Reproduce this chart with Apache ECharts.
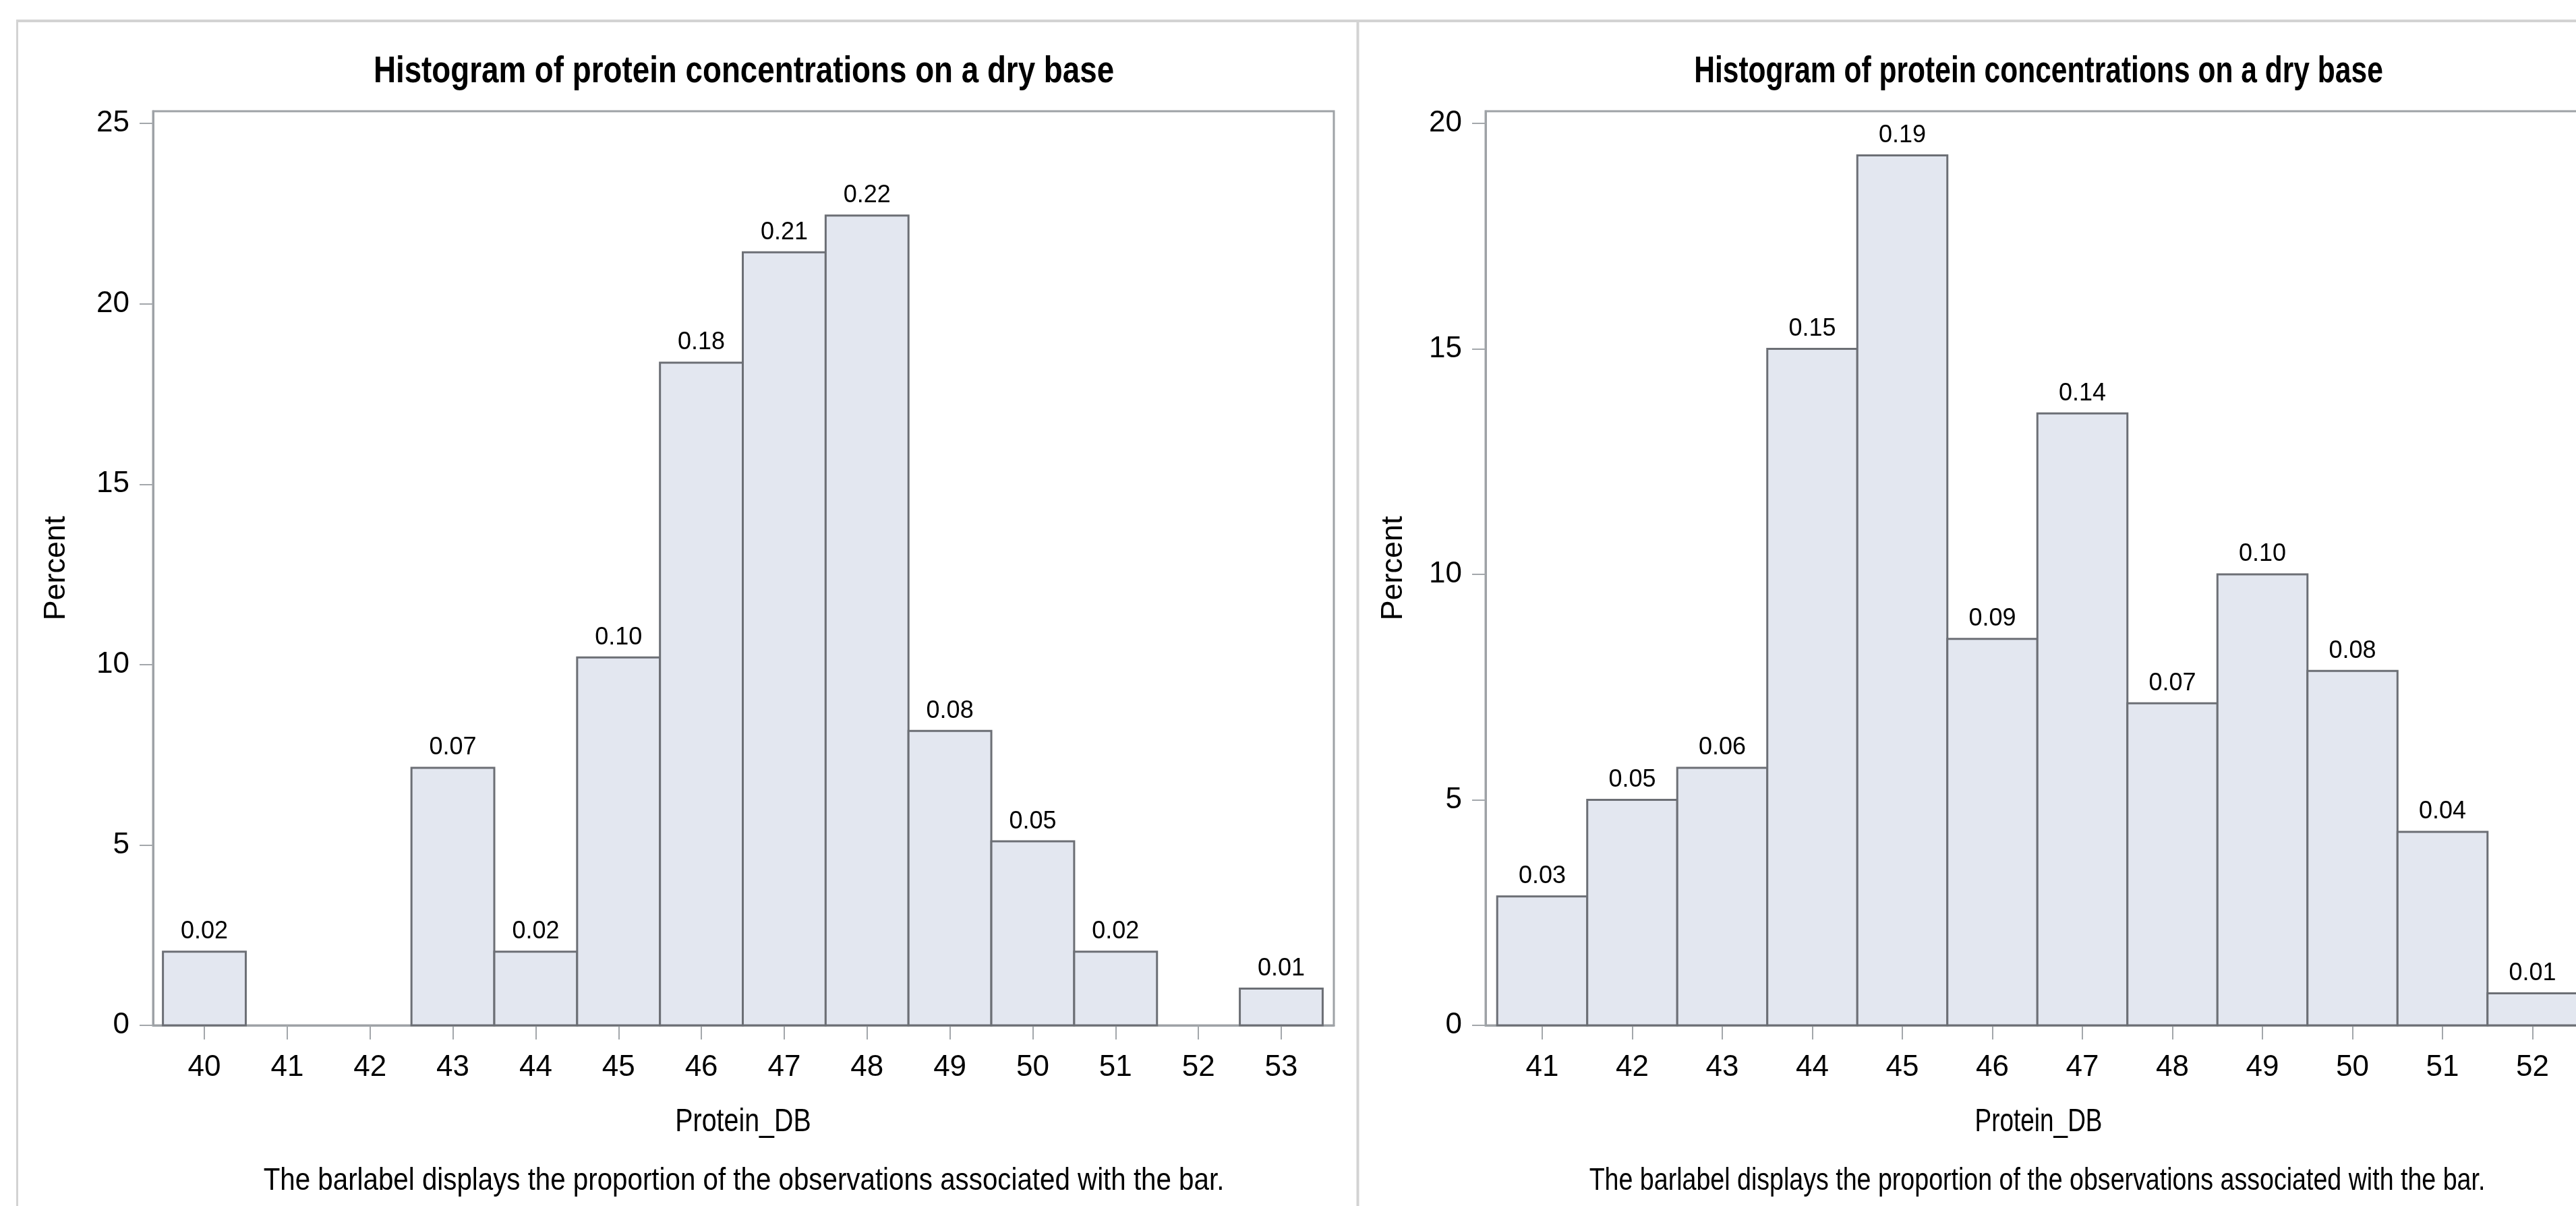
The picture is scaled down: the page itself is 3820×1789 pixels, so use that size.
<!DOCTYPE html>
<html>
<head>
<meta charset="utf-8">
<title>Histogram of protein concentrations on a dry base</title>
<script src="https://cdn.jsdelivr.net/npm/echarts@6/dist/echarts.min.js"></script>
<style>
    html, body { margin: 0; padding: 0; background: #fff; overflow: hidden; }
    #chart { width: 4010px; height: 1789px; }
</style>
</head>
<body>
<div id="chart"></div>
<script>
// left histogram (percent per bin, label = proportion)
const binsLeft = [40, 41, 42, 43, 44, 45, 46, 47, 48, 49, 50, 51, 52, 53];
const percentLeft = [2.04, 0, 0, 7.14, 2.04, 10.2, 18.37, 21.43, 22.45, 8.16, 5.1, 2.04, 0, 1.02];
const labelsLeft = ['0.02', '', '', '0.07', '0.02', '0.10', '0.18', '0.21', '0.22', '0.08', '0.05', '0.02', '', '0.01'];

// right histogram
const binsRight = [41, 42, 43, 44, 45, 46, 47, 48, 49, 50, 51, 52];
const percentRight = [2.86, 5.0, 5.71, 15.0, 19.29, 8.57, 13.57, 7.14, 10.0, 7.86, 4.29, 0.71];
const labelsRight = ['0.03', '0.05', '0.06', '0.15', '0.19', '0.09', '0.14', '0.07', '0.10', '0.08', '0.04', '0.01'];

// tick values
const xTicksLeft = [40, 41, 42, 43, 44, 45, 46, 47, 48, 49, 50, 51, 52, 53];
const xTicksRight = [41, 42, 43, 44, 45, 46, 47, 48, 49, 50, 51, 52, 53];
const yTicksLeft = [0, 5, 10, 15, 20, 25];
const yTicksRight = [0, 5, 10, 15, 20];

const titleText = 'Histogram of protein concentrations on a dry base';
const xNameText = 'Protein_DB';
const footText = 'The barlabel displays the proportion of the observations associated with the bar.';

const FONT = "'Liberation Sans', Arial, sans-serif";
const AXIS_GRAY = '#9ea2a6';
const PANEL_GRAY = '#d3d3d3';

const chart = echarts.init(document.getElementById('chart'));

const xAxisFor = (gridIndex, min, max, ticks) => ({
    type: 'value',
    gridIndex: gridIndex,
    min: min,
    max: max,
    axisLine: { show: true, onZero: false, lineStyle: { color: AXIS_GRAY, width: 3 } },
    axisTick: { show: true, customValues: ticks, length: 21, lineStyle: { color: '#a3a7ab', width: 2 } },
    axisLabel: { show: true, customValues: ticks, margin: 41, fontFamily: FONT, fontSize: 44, color: '#000' },
    splitLine: { show: false }
});

const yAxisFor = (gridIndex, max, ticks, nameGap) => ({
    type: 'value',
    gridIndex: gridIndex,
    min: 0,
    max: max,
    name: 'Percent',
    nameLocation: 'middle',
    nameRotate: 90,
    nameGap: nameGap,
    nameTextStyle: { fontFamily: FONT, fontSize: 45, color: '#000' },
    axisLine: { show: true, lineStyle: { color: AXIS_GRAY, width: 3 } },
    axisTick: { show: true, customValues: ticks, length: 20, lineStyle: { color: '#a3a7ab', width: 2 } },
    axisLabel: { show: true, customValues: ticks, margin: 35, fontFamily: FONT, fontSize: 44, color: '#000' },
    splitLine: { show: false }
});

// histogram bar: one bin wide, drawn from the axis scales
const barRenderer = (labels) => (params, api) => {
    const x = api.value(0);
    const y = api.value(1);
    if (!y) return null;
    const p0 = api.coord([x - 0.5, y]);
    const p1 = api.coord([x + 0.5, 0]);
    return {
        type: 'rect',
        shape: { x: p0[0], y: p0[1], width: p1[0] - p0[0], height: p1[1] - p0[1] },
        style: { fill: '#e3e7f0', stroke: '#6c6f75', lineWidth: 3 },
        textContent: {
            style: { text: labels[params.dataIndex], fontFamily: FONT, fontSize: 36, fill: '#000' }
        },
        textConfig: { position: 'top', distance: 10 }
    };
};

// condensed text (the original uses a narrow face)
const textEl = (text, x, y, size, weight, squeeze) => ({
    type: 'text',
    x: x,
    y: y,
    scaleX: squeeze,
    style: {
        text: text,
        fontFamily: FONT,
        fontSize: size,
        fontWeight: weight,
        fill: '#000',
        align: 'center',
        verticalAlign: 'top'
    }
});

const option = {
    backgroundColor: '#fff',
    animation: false,
    grid: [
        { left: 227, top: 165, width: 1751, height: 1356, show: true, borderColor: AXIS_GRAY, borderWidth: 3, outerBoundsMode: 'none' },
        { left: 2203, top: 165, width: 1640, height: 1356, show: true, borderColor: AXIS_GRAY, borderWidth: 3, outerBoundsMode: 'none' }
    ],
    xAxis: [
        xAxisFor(0, 39.381, 53.635, xTicksLeft),
        xAxisFor(1, 40.371, 52.655, xTicksRight)
    ],
    yAxis: [
        yAxisFor(0, 25.34, yTicksLeft, 121),
        yAxisFor(1, 20.27, yTicksRight, 114)
    ],
    series: [
        {
            type: 'custom',
            xAxisIndex: 0,
            yAxisIndex: 0,
            renderItem: barRenderer(labelsLeft),
            encode: { x: 0, y: 1 },
            data: binsLeft.map((b, i) => [b, percentLeft[i]])
        },
        {
            type: 'custom',
            xAxisIndex: 1,
            yAxisIndex: 1,
            renderItem: barRenderer(labelsRight),
            encode: { x: 0, y: 1 },
            data: binsRight.map((b, i) => [b, percentRight[i]])
        }
    ],
    graphic: [
        // panel frames
        { type: 'line', shape: { x1: 24, y1: 31, x2: 4010, y2: 31 }, style: { stroke: PANEL_GRAY, lineWidth: 4 } },
        { type: 'line', shape: { x1: 25.5, y1: 29, x2: 25.5, y2: 1789 }, style: { stroke: PANEL_GRAY, lineWidth: 3 } },
        { type: 'line', shape: { x1: 2013.5, y1: 29, x2: 2013.5, y2: 1789 }, style: { stroke: PANEL_GRAY, lineWidth: 4 } },
        // titles, axis names and footnotes
        textEl(titleText, 1103, 79, 56, 'bold', 0.817),
        textEl(titleText, 3023, 79, 56, 'bold', 0.76),
        textEl(xNameText, 1102, 1641, 48, 'normal', 0.82),
        textEl(xNameText, 3023, 1641, 48, 'normal', 0.77),
        textEl(footText, 1103, 1729, 46, 'normal', 0.876),
        textEl(footText, 3021, 1729, 46, 'normal', 0.817)
    ]
};

chart.setOption(option);
</script>
</body>
</html>
